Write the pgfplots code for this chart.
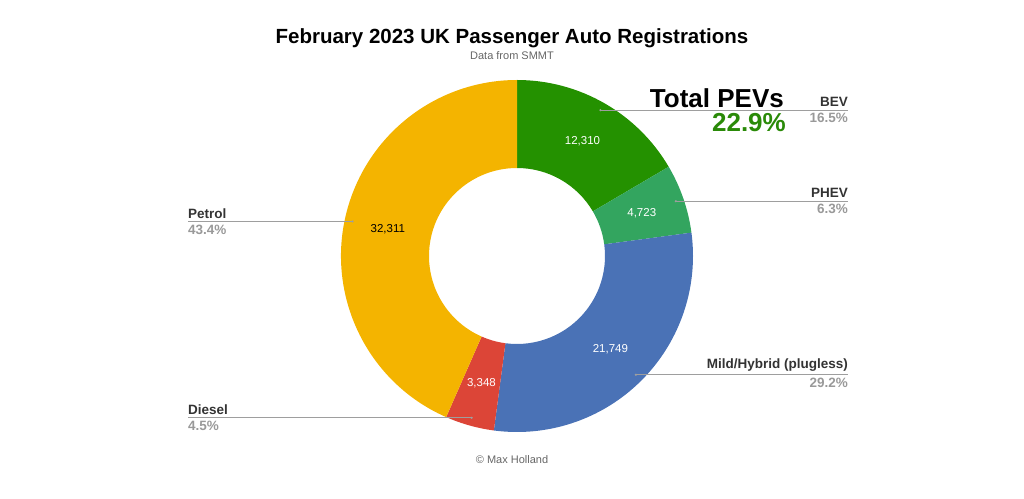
\documentclass[border=0pt]{standalone}
\usepackage{fontspec}
\setmainfont{Liberation Sans}
\usepackage{pgfplots}
\usepackage{pgfplotstable}
\pgfplotsset{compat=1.18}
\definecolor{cBEV}{HTML}{249100}
\definecolor{cPHEV}{HTML}{33A55F}
\definecolor{cMild}{HTML}{4A72B6}
\definecolor{cDiesel}{HTML}{DC4537}
\definecolor{cPetrol}{HTML}{F4B400}
\definecolor{cName}{HTML}{333333}
\definecolor{cPct}{HTML}{999999}
\definecolor{cLine}{HTML}{9E9E9E}
\definecolor{cPEV}{HTML}{2A8A08}

\pgfplotstableread[col sep=comma]{
name,value,side,color,txt
BEV,12310,1,cBEV,white
PHEV,4723,1,cPHEV,white
Mild/Hybrid (plugless),21749,1,cMild,white
Diesel,3348,-1,cDiesel,white
Petrol,32311,-1,cPetrol,black
}\datatable

\begin{document}
\begin{tikzpicture}
\path[use as bounding box] (0,0) rectangle (1024pt,498pt);
\begin{axis}[
  at={(0,0)}, anchor=south west,
  scale only axis, width=1024pt, height=498pt,
  xmin=0, xmax=1024, ymin=0, ymax=498,
  hide axis, clip=false,
]
\addplot[draw=none] coordinates {(0,0) (1024,498)};

\pgfplotsextra{
  \def\cx{517}\def\cy{242}\def\Rout{176}\def\Rin{88}\def\Rdot{168}
  \edef\total{0}
  \pgfplotsforeachungrouped \i in {0,...,4}{%
    \pgfplotstablegetelem{\i}{value}\of\datatable
    \edef\total{\fpeval{\total+\pgfplotsretval}}%
  }%
  \edef\cum{0}%
  \pgfplotsforeachungrouped \i in {0,...,4}{%
    \pgfplotstablegetelem{\i}{value}\of\datatable\edef\v{\pgfplotsretval}%
    \pgfplotstablegetelem{\i}{name}\of\datatable\edef\nm{\pgfplotsretval}%
    \pgfplotstablegetelem{\i}{side}\of\datatable\edef\sd{\pgfplotsretval}%
    \pgfplotstablegetelem{\i}{color}\of\datatable\edef\col{\pgfplotsretval}%
    \pgfplotstablegetelem{\i}{txt}\of\datatable\edef\tc{\pgfplotsretval}%
    \edef\aA{\fpeval{90-360*\cum/\total}}%
    \edef\aB{\fpeval{90-360*(\cum+\v)/\total}}%
    \edef\aM{\fpeval{(\aA+\aB)/2}}%
    \edef\pct{\fpeval{round(100*\v/\total,1)}}%
    \fill[\col, shift={(axis cs:\cx,\cy)}]
      (\aA:\Rout pt) arc[start angle=\aA, end angle=\aB, radius=\Rout pt]
      -- (\aB:\Rin pt) arc[start angle=\aB, end angle=\aA, radius=\Rin pt] -- cycle;
    % value label
    \edef\lx{\fpeval{\cx+132*cosd(\aM)}}\edef\ly{\fpeval{\cy+132*sind(\aM)}}%
    \node[text=\tc, font=\fontsize{11.5}{11.5}\selectfont] at (axis cs:\lx,\ly)
      {\pgfmathprintnumber[1000 sep={,},assume math mode=true]{\v}};
    % leader
    \edef\dx{\fpeval{\cx+\Rdot*cosd(\aM)}}\edef\dy{\fpeval{\cy+\Rdot*sind(\aM)}}%
    \ifnum\sd>0
      \draw[cLine, line width=0.8pt] (axis cs:\dx,\dy) -- (axis cs:848,\dy);
      \node[anchor=south east, inner sep=0pt, yshift=3pt, text=cName,
        font=\bfseries\fontsize{13.5}{13.5}\selectfont] at (axis cs:848,\dy) {\nm};
      \node[anchor=north east, inner sep=0pt, yshift=-3pt, text=cPct,
        font=\bfseries\fontsize{13.5}{13.5}\selectfont] at (axis cs:848,\dy) {\pct\%};
    \else
      \draw[cLine, line width=0.8pt] (axis cs:\dx,\dy) -- (axis cs:188,\dy);
      \node[anchor=south west, inner sep=0pt, yshift=3pt, text=cName,
        font=\bfseries\fontsize{13.5}{13.5}\selectfont] at (axis cs:188,\dy) {\nm};
      \node[anchor=north west, inner sep=0pt, yshift=-3pt, text=cPct,
        font=\bfseries\fontsize{13.5}{13.5}\selectfont] at (axis cs:188,\dy) {\pct\%};
    \fi
    \fill[cLine] (axis cs:\dx,\dy) circle[radius=1.2pt];
    \edef\cum{\fpeval{\cum+\v}}%
  }%
}

\node[font=\bfseries\fontsize{20.5}{20.5}\selectfont] at (axis cs:512,460) {February 2023 UK Passenger Auto Registrations};
\node[font=\fontsize{11}{11}\selectfont, text=black!60] at (axis cs:512,442) {Data from SMMT};
\node[font=\fontsize{11}{11}\selectfont, text=black!60] at (axis cs:512,38) {\textcopyright\ Max Holland};
\node[anchor=base east, inner sep=0pt, font=\bfseries\fontsize{26}{26}\selectfont] at (axis cs:784,390) {Total PEVs};
\node[anchor=base east, inner sep=0pt, text=cPEV, font=\bfseries\fontsize{26}{26}\selectfont] at (axis cs:786,366) {22.9\%};
\end{axis}
\end{tikzpicture}
\end{document}
